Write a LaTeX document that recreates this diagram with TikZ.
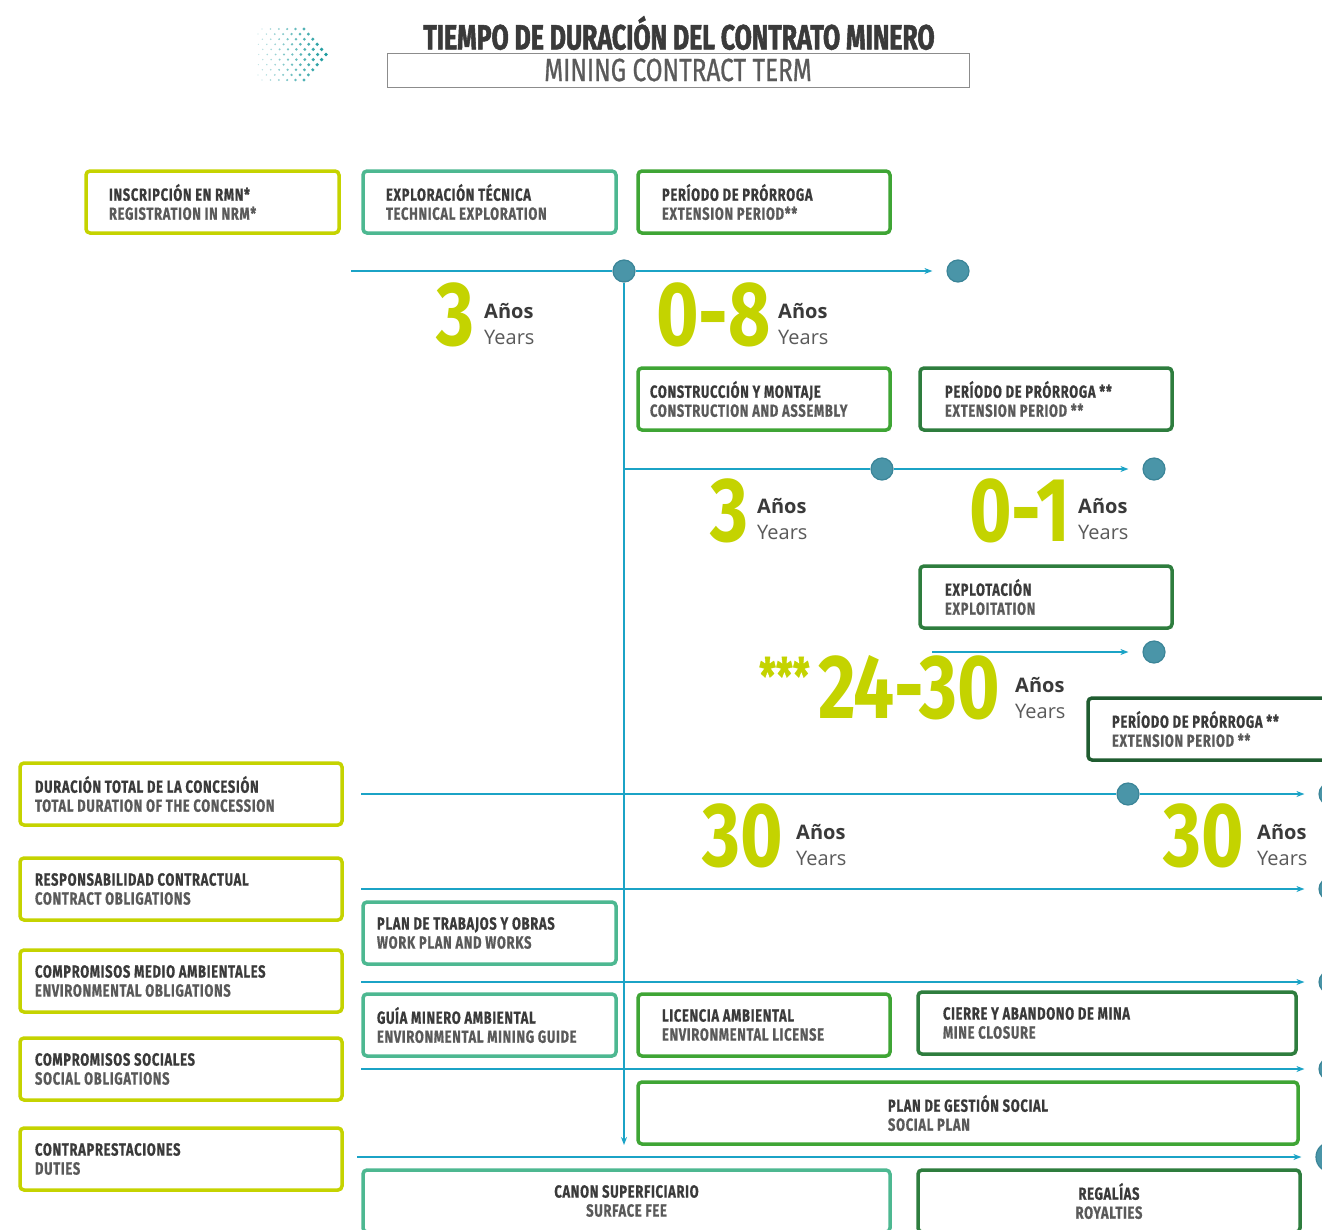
\documentclass[tikz,border=0pt]{standalone}
\usepackage{fontspec}
\setmainfont{Open Sans}
\newfontfamily\condfont[FakeStretch=0.74, LetterSpace=4, BoldFeatures={FakeBold=0.7}]{Fira Sans}
\newfontfamily\starfont[FakeStretch=0.74, BoldFeatures={FakeBold=0.7}]{Fira Sans}
\newfontfamily\titlefont[FakeStretch=0.71, BoldFeatures={FakeBold=1.5}]{Fira Sans}
\newfontfamily\subtitlefont[FakeStretch=0.76, FakeBold=0.8]{Fira Sans}
\newfontfamily\numfont[FakeStretch=0.8]{Fira Sans}
\usetikzlibrary{arrows.meta}

\definecolor{boxlime}{HTML}{C5D300}
\definecolor{boxteal}{HTML}{4DB891}
\definecolor{boxgreen}{HTML}{3FA535}
\definecolor{boxdark}{HTML}{2E7D3E}
\definecolor{boxdeep}{HTML}{1F5C30}
\definecolor{lineblue}{HTML}{1BA3C6}
\definecolor{dotfill}{HTML}{4A95A8}
\definecolor{dotedge}{HTML}{3B8598}
\definecolor{logoteal}{HTML}{1A9A9E}
\definecolor{numlime}{HTML}{C4D300}
\definecolor{txtdark}{HTML}{3A3A3A}
\definecolor{txtgrey}{HTML}{5A5A5A}

\newcommand{\engline}[1]{\textcolor{txtgrey}{#1}}

\begin{document}
\begin{tikzpicture}[x=1pt, y=-1pt,
    box/.style={line width=3.5pt, rounded corners=4pt, minimum height=62pt,
      align=flush left, text=txtdark,
      font=\condfont\bfseries\fontsize{17.5}{19}\selectfont},
    limebox/.style={box, draw=boxlime},
    tealbox/.style={box, draw=boxteal},
    greenbox/.style={box, draw=boxgreen},
    darkbox/.style={box, draw=boxdark},
    deepbox/.style={box, draw=boxdeep},
    dot/.style={circle, fill=dotfill, draw=dotedge, line width=1.2pt,
      minimum size=22pt, inner sep=0pt},
    tline/.style={draw=lineblue, line width=2pt},
    tarrow/.style={tline, -{Stealth[length=8pt, width=6pt]}},
    todot/.style={tarrow, shorten >=14pt},
    bignum/.style={anchor=base west, inner sep=0pt, text=numlime,
      font=\numfont\bfseries\fontsize{91}{91}\selectfont},
    anos/.style={anchor=base west, inner sep=0pt, text=txtdark,
      font=\bfseries\fontsize{20}{20}\selectfont},
    years/.style={anchor=base west, inner sep=0pt, text=txtgrey,
      font=\fontsize{20}{20}\selectfont}]

  \useasboundingbox (0,0) rectangle (1322,1229);
  \fill[white] (0,0) rectangle (1322,1229);
  \clip (0,0) rectangle (1322,1229);

  % logo
  \foreach \r in {0,...,10} {
    \pgfmathsetmacro\d{abs(\r-5)}
    \pgfmathtruncatemacro\n{(69-4.4*\d)/8.4}
    \foreach \k in {0,...,\n} {
      \pgfmathsetmacro\xx{326-4.4*\d-8.4*\k}
      \pgfmathsetmacro\rr{0.6+1.4*(\xx-257)/70}
      \pgfmathsetmacro\op{0.25+0.75*(\xx-257)/70}
      \fill[logoteal, opacity=\op] (\xx,29+5.1*\r) circle[radius=\rr pt];
    }
  }

  % title
  \node[text=txtdark, font=\titlefont\bfseries\fontsize{35}{40}\selectfont]
    (title) at (679,33) {TIEMPO DE DURACIÓN DEL CONTRATO MINERO};
  \node[draw=black!45, line width=1pt, minimum width=582pt, minimum height=34pt,
    inner sep=0pt, text=txtgrey, font=\subtitlefont\fontsize{32}{34}\selectfont]
    (subtitle) at (678,70) {MINING CONTRACT TERM};

  % boxes
  \node[limebox, text width=207pt, inner xsep=23pt] (rmn) at (212.5,202)
    {INSCRIPCIÓN EN RMN*\\\engline{REGISTRATION IN NRM*}};
  \node[tealbox, text width=207pt, inner xsep=23pt] (explo) at (489.5,202)
    {EXPLORACIÓN TÉCNICA\\\engline{TECHNICAL EXPLORATION}};
  \node[greenbox, text width=204pt, inner xsep=24pt] (prorr1) at (764,202)
    {PERÍODO DE PRÓRROGA\\\engline{EXTENSION PERIOD**}};
  \node[greenbox, text width=228pt, inner xsep=12pt] (constr) at (764,399)
    {CONSTRUCCIÓN Y MONTAJE\\\engline{CONSTRUCTION AND ASSEMBLY}};
  \node[darkbox, text width=202pt, inner xsep=25pt] (prorr2) at (1046,399)
    {PERÍODO DE PRÓRROGA **\\\engline{EXTENSION PERIOD **}};
  \node[darkbox, text width=202pt, inner xsep=25pt] (explot) at (1046,597)
    {EXPLOTACIÓN\\\engline{EXPLOITATION}};
  \node[deepbox, text width=204pt, inner xsep=24pt] (prorr3) at (1214,729)
    {PERÍODO DE PRÓRROGA **\\\engline{EXTENSION PERIOD **}};

  \node[limebox, text width=292pt, inner xsep=15pt] (durac) at (181,794)
    {DURACIÓN TOTAL DE LA CONCESIÓN\\\engline{TOTAL DURATION OF THE CONCESSION}};
  \node[limebox, text width=292pt, inner xsep=15pt] (respon) at (181,889)
    {RESPONSABILIDAD CONTRACTUAL\\\engline{CONTRACT OBLIGATIONS}};
  \node[limebox, text width=292pt, inner xsep=15pt] (medio) at (181,981)
    {COMPROMISOS MEDIO AMBIENTALES\\\engline{ENVIRONMENTAL OBLIGATIONS}};
  \node[limebox, text width=292pt, inner xsep=15pt] (social) at (181,1069)
    {COMPROMISOS SOCIALES\\\engline{SOCIAL OBLIGATIONS}};
  \node[limebox, text width=292pt, inner xsep=15pt] (contra) at (181,1159)
    {CONTRAPRESTACIONES\\\engline{DUTIES}};

  \node[tealbox, text width=225pt, inner xsep=14pt] (plantrab) at (489.5,933)
    {PLAN DE TRABAJOS Y OBRAS\\\engline{WORK PLAN AND WORKS}};
  \node[tealbox, text width=225pt, inner xsep=14pt] (guia) at (489.5,1025)
    {GUÍA MINERO AMBIENTAL\\\engline{ENVIRONMENTAL MINING GUIDE}};
  \node[greenbox, text width=204pt, inner xsep=24pt] (licen) at (764,1025)
    {LICENCIA AMBIENTAL\\\engline{ENVIRONMENTAL LICENSE}};
  \node[darkbox, text width=328pt, inner xsep=25pt] (cierre) at (1107,1023)
    {CIERRE Y ABANDONO DE MINA\\\engline{MINE CLOSURE}};
  \node[greenbox, minimum width=660pt, align=left] (gestion) at (968,1113)
    {PLAN DE GESTIÓN SOCIAL\\\engline{SOCIAL PLAN}};
  \node[tealbox, minimum width=527pt, align=center] (canon) at (626.5,1201)
    {CANON SUPERFICIARIO\\\engline{SURFACE FEE}};
  \node[darkbox, minimum width=382pt, align=center] (regal) at (1109,1201)
    {REGALÍAS\\\engline{ROYALTIES}};

  % dots
  \node[dot] (c1a) at (624,271) {};
  \node[dot] (c1b) at (958,271) {};
  \node[dot] (c2a) at (882,469) {};
  \node[dot] (c2b) at (1154,469) {};
  \node[dot] (c3)  at (1154,652) {};
  \node[dot] (c4a) at (1128,794) {};
  \node[dot] (c4b) at (1330,794) {};
  \node[dot] (c5)  at (1330,889) {};
  \node[dot] (c6)  at (1330,982) {};
  \node[dot] (c7)  at (1330,1069) {};
  \node[dot, minimum size=30pt] (c8) at (1331,1157) {};

  % time lines
  \coordinate (t1) at (351,271);
  \coordinate (t2) at (624,469);
  \coordinate (t3) at (932,652);
  \coordinate (t4) at (361,794);
  \coordinate (t5) at (361,889);
  \coordinate (t6) at (361,982);
  \coordinate (t7) at (361,1069);
  \coordinate (t8) at (357,1157);
  \coordinate (vend) at (624,1145);

  \draw[tline] (t1) -- (c1a);
  \draw[todot] (c1a) -- (c1b);
  \draw[tarrow] (c1a) -- (vend);
  \draw[tline] (t2) -- (c2a);
  \draw[todot] (c2a) -- (c2b);
  \draw[todot] (t3) -- (c3);
  \draw[tline] (t4) -- (c4a);
  \draw[todot] (c4a) -- (c4b);
  \draw[todot] (t5) -- (c5);
  \draw[todot] (t6) -- (c6);
  \draw[todot] (t7) -- (c7);
  \draw[todot] (t8) -- (c8);

  % durations
  \node[bignum] (n1) at (436,345) {3};
  \node[bignum] (n2) at (656,345) {0-8};
  \node[bignum] (n3) at (710,541) {3};
  \node[bignum] (n4) at (969,541) {0-1};
  \node[bignum] (n5) at (818,718) {24-30};
  \node[anchor=base west, inner sep=0pt, text=numlime,
    font=\starfont\bfseries\fontsize{50}{50}\selectfont] (stars) at (759,694) {***};
  \node[bignum] (n6) at (702,866) {30};
  \node[bignum] (n7) at (1163,866) {30};

  \foreach \n/\x/\y in {a/484/318, b/778/318, c/757/513, d/1078/513,
                        e/1015/692, f/796/839, g/1257/839} {
    \node[anos] (anos\n) at (\x,\y) {Años};
    \node[years] (yrs\n) at (\x,\y+26) {Years};
  }

\end{tikzpicture}
\end{document}
